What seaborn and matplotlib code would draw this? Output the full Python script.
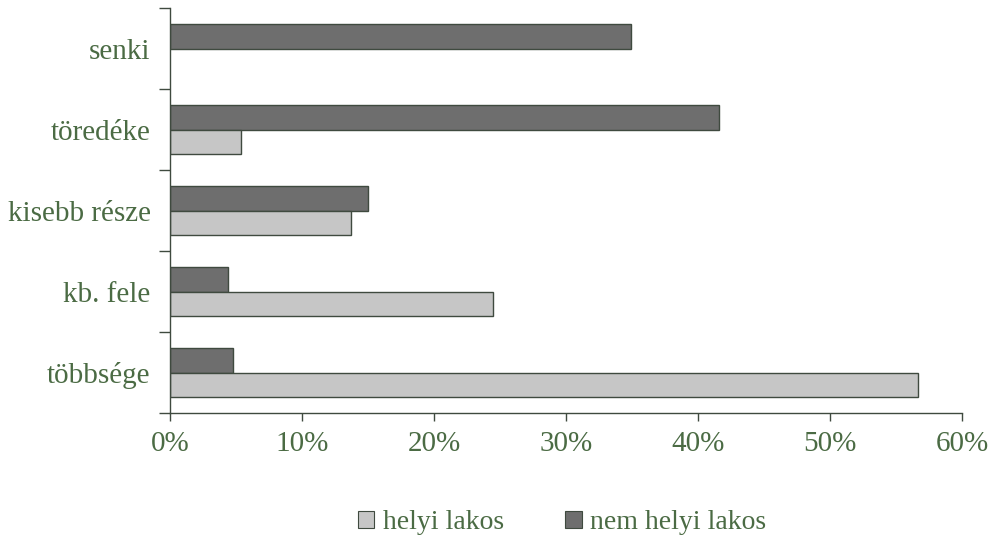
import matplotlib
matplotlib.use("Agg")
import matplotlib.pyplot as plt
import seaborn as sns
import pandas as pd
import numpy as np
from matplotlib.patches import Patch
from matplotlib.ticker import FuncFormatter

categories = ["senki", "töredéke", "kisebb része", "kb. fele", "többsége"]
helyi_lakos = [np.nan, 5.4, 13.7, 24.5, 56.7]
nem_helyi_lakos = [34.9, 41.6, 15.0, 4.4, 4.8]
series_names = ["helyi lakos", "nem helyi lakos"]
x_ticks = [0, 10, 20, 30, 40, 50, 60]

rows = []
for c, h, n in zip(categories, helyi_lakos, nem_helyi_lakos):
    rows.append({"kat": c, "sor": "nem helyi lakos", "v": n})
    rows.append({"kat": c, "sor": "helyi lakos", "v": h})
df = pd.DataFrame(rows)

sns.set_theme(style="white")
plt.rcParams["font.family"] = ["Liberation Serif", "DejaVu Serif"]
text_col = "#4b6b44"
light = "#c6c6c6"
dark = "#6e6e6e"
edge = "#3f4a3f"

fig = plt.figure(figsize=(10, 5.4), dpi=100)
ax = fig.add_axes([0.17, 0.235, 0.792, 0.75])

palette = {"helyi lakos": light, "nem helyi lakos": dark}
sns.barplot(data=df, y="kat", x="v", hue="sor", order=categories,
            hue_order=["nem helyi lakos", "helyi lakos"], palette=palette,
            orient="h", width=0.6, gap=0, edgecolor=edge, linewidth=1.0,
            saturation=1, ax=ax, legend=False, errorbar=None)

ax.set_xlim(0, 60)
ax.set_ylim(4.5, -0.5)
ax.set_xticks(x_ticks)
ax.xaxis.set_major_formatter(FuncFormatter(lambda v, p: f"{v:.0f}%"))
ax.set_yticks([i - 0.5 for i in range(len(categories) + 1)], minor=True)
ax.tick_params(axis="y", which="major", length=0, pad=14, labelsize=21, labelcolor=text_col)
ax.tick_params(axis="y", which="minor", length=8, width=1, color=edge, direction="out", left=True)
ax.tick_params(axis="x", which="major", length=6, width=1, color=edge, direction="out",
               bottom=True, pad=7, labelsize=21, labelcolor=text_col)
ax.set_xlabel("")
ax.set_ylabel("")
for s in ["top", "right"]:
    ax.spines[s].set_visible(False)
for s in ["left", "bottom"]:
    ax.spines[s].set_color(edge)
    ax.spines[s].set_linewidth(1.0)
ax.grid(False)

handles = [Patch(facecolor=palette[n], edgecolor=edge, linewidth=0.8) for n in series_names]
fig.legend(handles, series_names, loc="center", bbox_to_anchor=(0.562, 0.032), ncol=2,
           frameon=False, fontsize=20, labelcolor=text_col, handlelength=0.6,
           handleheight=0.6, handletextpad=0.3, columnspacing=2.2)

fig.savefig("out.png", dpi=100)
